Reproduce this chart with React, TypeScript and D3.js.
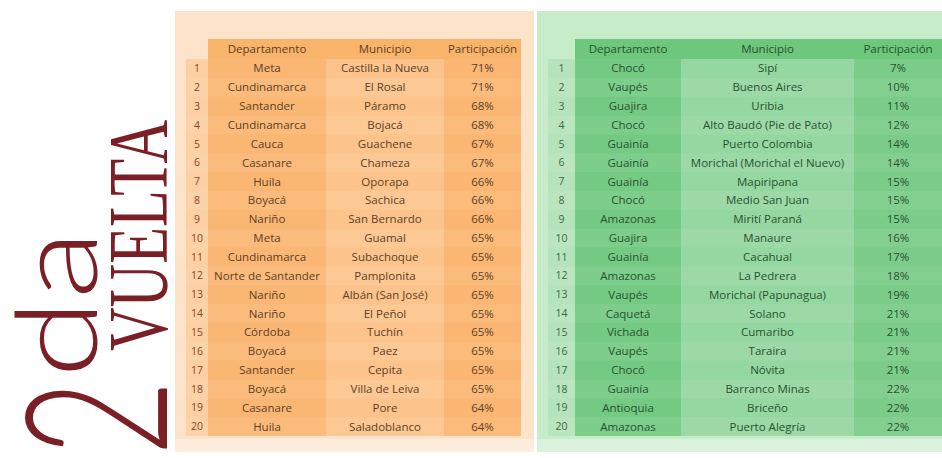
// @ts-nocheck
import React from "react";
import * as d3 from "d3";

const headers = ["Departamento", "Municipio", "Participación"];

const altaDept = [
  "Meta", "Cundinamarca", "Santander", "Cundinamarca", "Cauca", "Casanare", "Huila",
  "Boyacá", "Nariño", "Meta", "Cundinamarca", "Norte de Santander", "Nariño", "Nariño",
  "Córdoba", "Boyacá", "Santander", "Boyacá", "Casanare", "Huila",
];
const altaMuni = [
  "Castilla la Nueva", "El Rosal", "Páramo", "Bojacá", "Guachene", "Chameza", "Oporapa",
  "Sachica", "San Bernardo", "Guamal", "Subachoque", "Pamplonita", "Albán (San José)",
  "El Peñol", "Tuchín", "Paez", "Cepita", "Villa de Leiva", "Pore", "Saladoblanco",
];
const altaPct = [71, 71, 68, 68, 67, 67, 66, 66, 66, 65, 65, 65, 65, 65, 65, 65, 65, 65, 64, 64];

const bajaDept = [
  "Chocó", "Vaupés", "Guajira", "Chocó", "Guainía", "Guainía", "Guainía", "Chocó",
  "Amazonas", "Guajira", "Guainía", "Amazonas", "Vaupés", "Caquetá", "Vichada", "Vaupés",
  "Chocó", "Guainía", "Antioquia", "Amazonas",
];
const bajaMuni = [
  "Sipí", "Buenos Aires", "Uribia", "Alto Baudó (Pie de Pato)", "Puerto Colombia",
  "Morichal (Morichal el Nuevo)", "Mapiripana", "Medio San Juan", "Mirití Paraná", "Manaure",
  "Cacahual", "La Pedrera", "Morichal (Papunagua)", "Solano", "Cumaribo", "Taraira", "Nóvita",
  "Barranco Minas", "Briceño", "Puerto Alegría",
];
const bajaPct = [7, 10, 11, 12, 14, 14, 15, 15, 15, 16, 17, 18, 19, 21, 21, 21, 21, 22, 22, 22];

const W = 942;
const H = 458;

const Tabla = ({ dept, muni, pct, panel, cols, theme }) => {
  const idx = d3.range(1, dept.length + 1);
  const y = d3.scaleBand().domain(idx).range([59, 436]);
  const [x0, x1, x2, x3, x4] = cols;
  const colBoxes = [
    { x: x1, w: x2 - x1, fill: theme.dept },
    { x: x2, w: x3 - x2, fill: theme.muni },
    { x: x3, w: x4 - x3, fill: theme.pct },
  ];
  const font = "'Open Sans', 'Liberation Sans', sans-serif";
  const cy = (d) => y(d) + y.bandwidth() / 2;
  return (
    <g>
      <rect x={panel[0]} y={11} width={panel[1] - panel[0]} height={441} fill={theme.bg} />
      <rect x={panel[0]} y={439} width={panel[1] - panel[0]} height={13} fill="#fff" opacity={0.35} />
      {/* header */}
      <rect x={x1} y={39} width={x4 - x1} height={20} fill={theme.head} />
      {/* index column */}
      <rect x={x0} y={y(1)} width={x1 - x0} height={y.range()[1] - y(1)} fill={theme.idx} />
      {colBoxes.map((c, i) => (
        <rect key={i} x={c.x} y={y(1)} width={c.w} height={y.range()[1] - y(1)} fill={c.fill} />
      ))}
      {idx.map((d) =>
        d % 2 === 0 ? (
          <rect key={d} x={x0} y={y(d)} width={x4 - x0} height={y.bandwidth()} fill="#fff" opacity={0.07} />
        ) : null
      )}
      {headers.map((h, i) => (
        <text
          key={h}
          x={(cols[i + 1] + cols[i + 2]) / 2}
          y={49}
          dy="0.35em"
          textAnchor="middle"
          fontSize={11.5}
          fontFamily={font}
          fill={theme.text}
        >
          {h}
        </text>
      ))}
      {idx.map((d, i) => (
        <g key={d} fontFamily={font} fontSize={11.5} fill={theme.text}>
          <text x={(x0 + x1) / 2} y={cy(d)} dy="0.35em" textAnchor="middle" fill={theme.num} fontSize={10.5}>
            {d}
          </text>
          <text x={(x1 + x2) / 2} y={cy(d)} dy="0.35em" textAnchor="middle">
            {dept[i]}
          </text>
          <text x={(x2 + x3) / 2} y={cy(d)} dy="0.35em" textAnchor="middle">
            {muni[i]}
          </text>
          <text x={(x3 + x4) / 2} y={cy(d)} dy="0.35em" textAnchor="middle">
            {pct[i]}%
          </text>
        </g>
      ))}
    </g>
  );
};

const naranja = {
  bg: "#fde3c9",
  head: "#f9b46c",
  idx: "#fcd0a3",
  dept: "#fab673",
  muni: "#fcc48c",
  pct: "#fab672",
  text: "#5e3f24",
  num: "#8a4426",
};

const verde = {
  bg: "#c6ecca",
  head: "#6dc77c",
  idx: "#b5e3bb",
  dept: "#74ca83",
  muni: "#95d7a1",
  pct: "#7acc88",
  text: "#27532e",
  num: "#3a6a40",
};

export default function App() {
  const rojo = "#7b1f27";
  return (
    <svg width={W} height={H} style={{ position: "absolute", left: 0, top: 0, background: "#fff" }}>
      <rect width={W} height={H} fill="#fff" />
      <Tabla
        dept={altaDept}
        muni={altaMuni}
        pct={altaPct}
        panel={[175, 534]}
        cols={[186, 208, 326, 444, 521]}
        theme={naranja}
      />
      <Tabla
        dept={bajaDept}
        muni={bajaMuni}
        pct={bajaPct}
        panel={[537, 942]}
        cols={[548, 575, 681, 854, 942]}
        theme={verde}
      />
      <g fill={rojo}>
        <text
          transform="translate(167,456) rotate(-90)"
          fontFamily="Lato, 'Open Sans', sans-serif"
          fontWeight={300}
          fontSize={198}
          textLength={76}
          lengthAdjust="spacingAndGlyphs"
        >
          2
        </text>
        <text
          transform="translate(97,378) rotate(-90)"
          fontFamily="Lato, 'Open Sans', sans-serif"
          fontWeight={300}
          fontSize={112}
          textLength={148}
          lengthAdjust="spacingAndGlyphs"
        >
          da
        </text>
        <text
          transform="translate(167,351) rotate(-90)"
          fontFamily="'Liberation Serif', 'DejaVu Serif', serif"
          fontSize={84}
          textLength={231}
          lengthAdjust="spacingAndGlyphs"
        >
          VUELTA
        </text>
      </g>
    </svg>
  );
}
